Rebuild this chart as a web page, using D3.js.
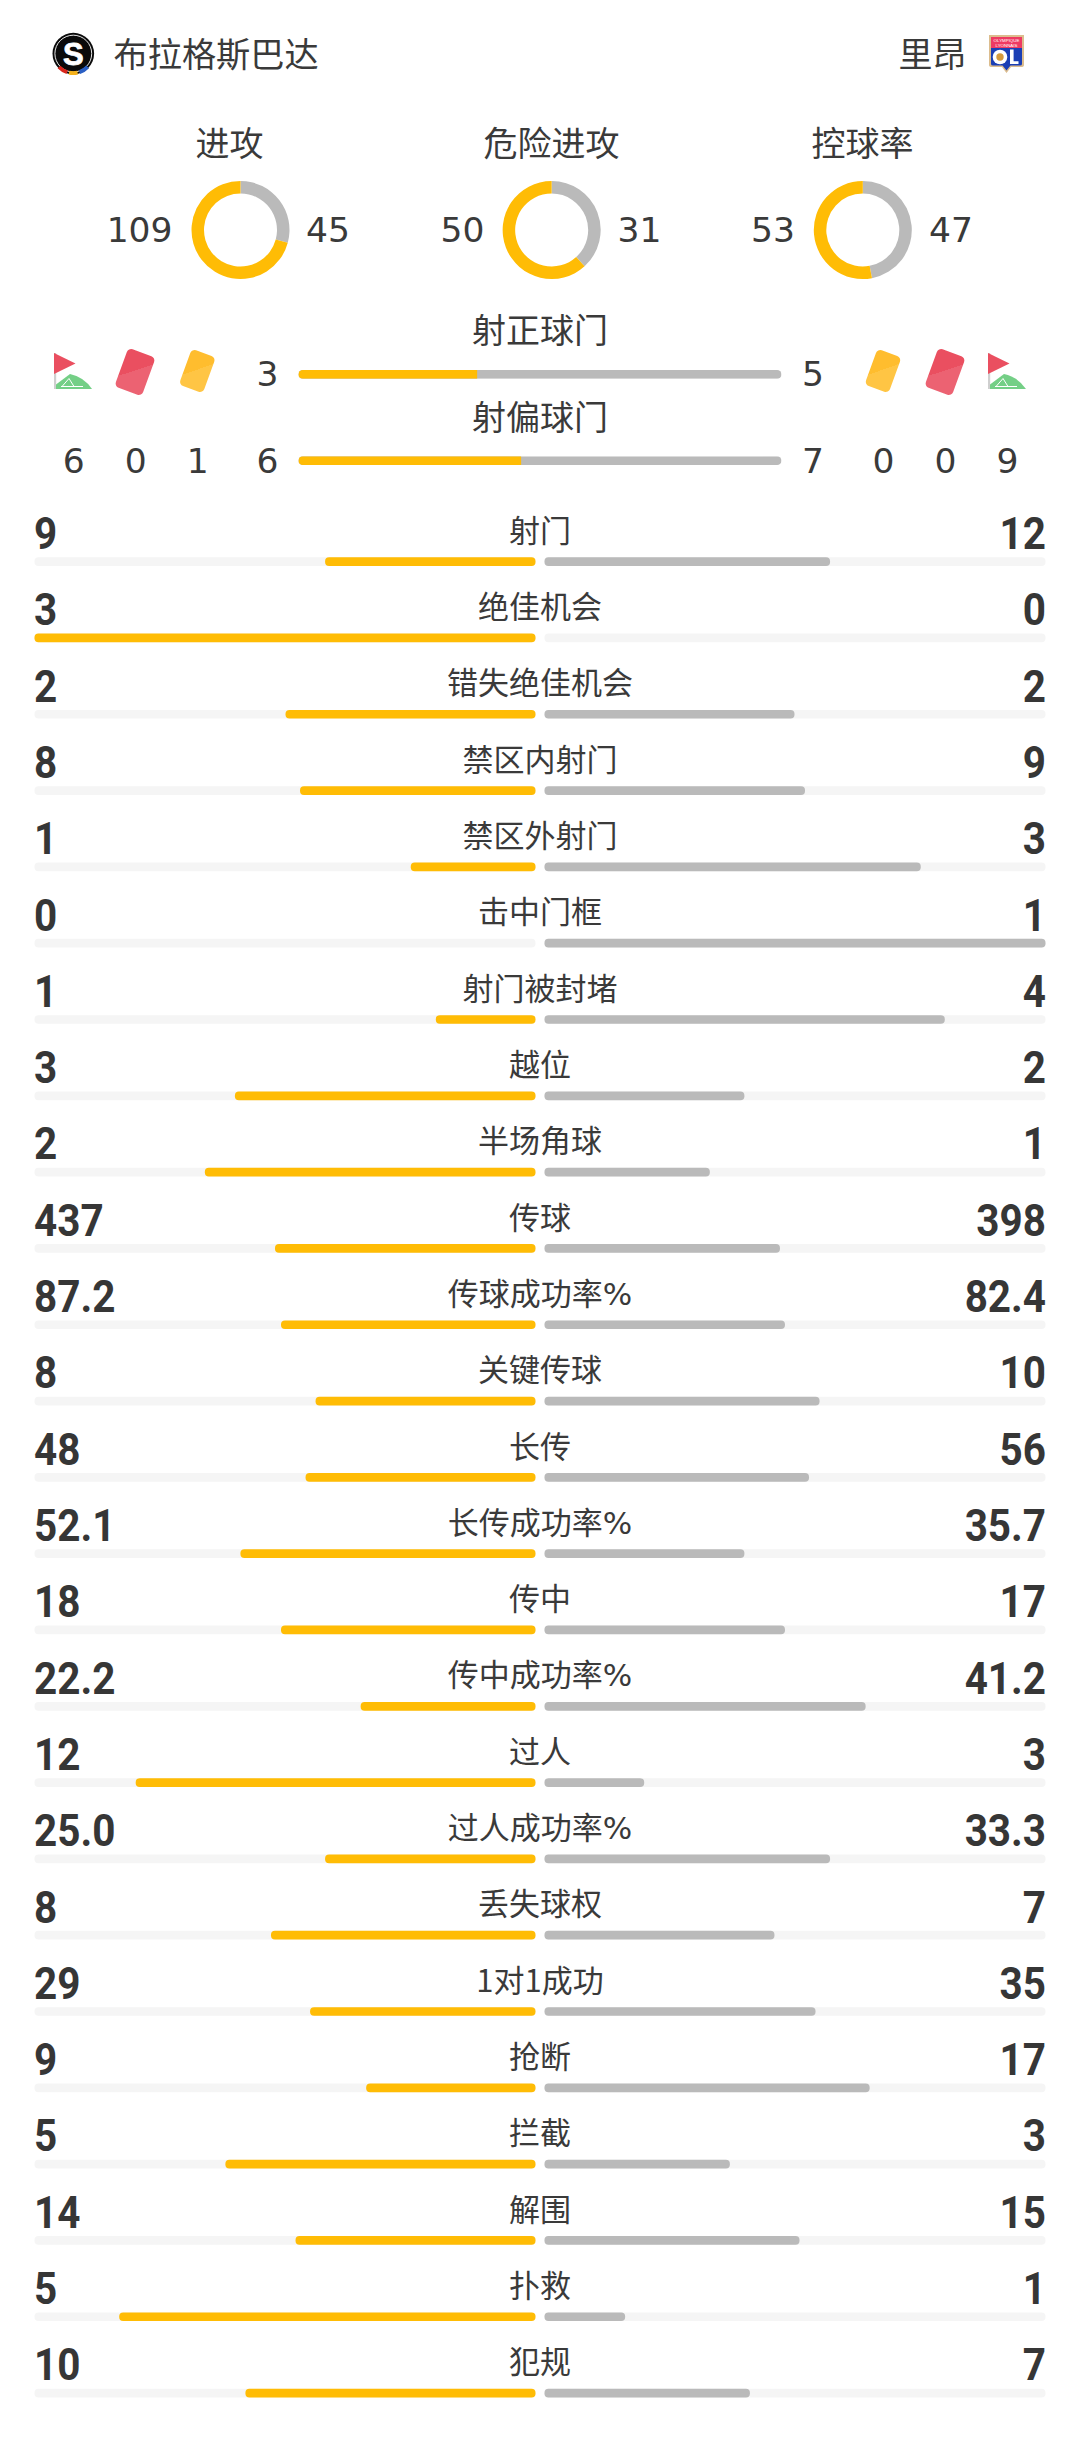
<!DOCTYPE html>
<html><head><meta charset="utf-8">
<script src="https://cdnjs.cloudflare.com/ajax/libs/d3/7.8.5/d3.min.js"></script>
<style>
html,body{margin:0;padding:0;background:#fff}
svg{display:block}
text{font-family:"DejaVu Sans","Noto Sans CJK SC",sans-serif;fill:#3a3a3a}
.cjk{font-family:"Noto Sans CJK SC","DejaVu Sans",sans-serif}
.num{font-family:Roboto,"DejaVu Sans",sans-serif;font-weight:700;fill:#363636}
.nar{font-family:"Liberation Sans Narrow","Noto Sans CJK SC",sans-serif}
</style></head><body>
<svg id="c" width="1080" height="2455" viewBox="0 0 1080 2455"></svg>
<script>
// ---- data ----
const homeTeam = "布拉格斯巴达";
const awayTeam = "里昂";
const donutTitles = ["进攻", "危险进攻", "控球率"];
const donutHome = [109, 50, 53];
const donutAway = [45, 31, 47];
const shotTitles = ["射正球门", "射偏球门"];
const shotHome = [3, 6];
const shotAway = [5, 7];
const shotHomePct = [37, 46.1];
const cornersHome = 6, redHome = 0, yellowHome = 1;
const cornersAway = 9, redAway = 0, yellowAway = 0;
const statLabels = ["射门","绝佳机会","错失绝佳机会","禁区内射门","禁区外射门","击中门框","射门被封堵","越位","半场角球","传球","传球成功率%","关键传球","长传","长传成功率%","传中","传中成功率%","过人","过人成功率%","丢失球权","1对1成功","抢断","拦截","解围","扑救","犯规"];
const statHome = [9,3,2,8,1,0,1,3,2,437,87.2,8,48,52.1,18,22.2,12,25.0,8,29,9,5,14,5,10];
const statAway = [12,0,2,9,3,1,4,2,1,398,82.4,10,56,35.7,17,41.2,3,33.3,7,35,17,3,15,1,7];
// bar lengths, in % of one half-track
const barHomePct = [42,100,49.9,47,24.9,0,19.9,60,66,52,50.8,43.9,45.9,58.9,50.8,34.9,79.8,42,52.8,45,33.8,61.9,47.9,83.1,57.9];
const barAwayPct = [57,0,49.9,52,75.1,100,79.9,39.9,33,47,48,54.9,52.8,39.9,48,64.1,19.9,57,45.9,54.1,64.9,37,50.9,16.1,41];

// ---- colours / layout ----
const YEL = "#ffbc05", GRY = "#bababa", TRK = "#f5f5f5";
const svg = d3.select("#c");
const defs = svg.append("defs");
function grad(id, a, b){
  const g = defs.append("linearGradient").attr("id", id).attr("x1","0").attr("y1","0").attr("x2","0.55").attr("y2","1");
  g.append("stop").attr("offset","0.56").attr("stop-color",a);
  g.append("stop").attr("offset","0.56").attr("stop-color",b);
}
grad("gr","#ea4f60","#ec6272");
grad("gy","#ffbd2e","#ffc544");

function txt(x,y,s,size,anchor,cls){
  return svg.append("text").attr("x",x).attr("y",y).attr("font-size",size)
    .attr("text-anchor",anchor||"middle").attr("class",cls||null).text(s);
}

// ---- header ----
txt(113.5,67,homeTeam,34.2,"start","cjk");
txt(966.5,67,awayTeam,34,"end","cjk");

// Sparta crest
const sp = svg.append("g").attr("transform","translate(73.3,53.6)");
sp.append("circle").attr("r",20.8).attr("fill","#0a0a0a");
sp.append("circle").attr("r",18.4).attr("fill","none").attr("stroke","#fff").attr("stroke-width",0.9);
sp.append("text").attr("y",11).attr("text-anchor","middle").attr("font-size",31)
  .style("font-family","'Liberation Sans',sans-serif").style("font-weight","700").style("fill","#fff").style("stroke","#fff").style("stroke-width","0.8").text("S");
const spArc = d3.arc().innerRadius(17.6).outerRadius(21.5);
[[2.32,2.82,"#2a5fc4"],[2.92,3.36,"#f5b21b"],[3.46,3.96,"#d9261c"]].forEach(d=>{
  sp.append("path").attr("d",spArc({startAngle:d[0],endAngle:d[1]})).attr("fill",d[2]);
});

// Lyon crest
const ol = svg.append("g").attr("transform","translate(989,35)");
ol.append("path").attr("d","M0,0H35V30Q35,32 32,32H22L17.5,38L13,32H3Q0,32 0,30Z").attr("fill","#dcbd8e");
ol.append("rect").attr("x",2).attr("y",2).attr("width",31).attr("height",11).attr("fill","#ee3a62");
ol.append("path").attr("d","M2,13H33V29Q33,30.5 31,30.5H21.5L17.5,35.5L13.5,30.5H4Q2,30.5 2,29Z").attr("fill","#1b3fb5");
ol.append("text").attr("x",17.5).attr("y",6.8).attr("text-anchor","middle").attr("font-size",4.4).style("font-family","'Liberation Sans',sans-serif").style("fill","#fff").text("OLYMPIQUE");
ol.append("text").attr("x",17.5).attr("y",11.6).attr("text-anchor","middle").attr("font-size",4.4).style("font-family","'Liberation Sans',sans-serif").style("fill","#fff").text("LYONNAIS");
ol.append("circle").attr("cx",11).attr("cy",22).attr("r",7.3).attr("fill","#fff");
ol.append("circle").attr("cx",11).attr("cy",22).attr("r",3.7).attr("fill","#d59a3c");
ol.append("path").attr("d","M21,14.5H24.6V26.2H29.5V29H21Z").attr("fill","#fff");

// ---- donuts ----
const pie = d3.pie().sort(null);
const arc = d3.arc().innerRadius(36.5).outerRadius(49);
const donutX = d3.scalePoint().domain(d3.range(3)).range([240.5,862.8]);
const titleX = [229.5,551.4,862.6];
const homeRight = [172.5,484.5,795];
const awayLeft = [306,617.5,929];
donutTitles.forEach((t,i)=>{
  txt(titleX[i],156,t,34,"middle","cjk");
  const g = svg.append("g").attr("transform",`translate(${donutX(i)},230)`);
  g.selectAll("path").data(pie([donutAway[i],donutHome[i]])).join("path")
    .attr("d",arc).attr("fill",(d,j)=>j?YEL:GRY);
  txt(homeRight[i],241.5,donutHome[i],34.5,"end");
  txt(awayLeft[i],241.5,donutAway[i],34.5,"start");
});

// ---- shots on/off target ----
const shotY = [370,456.3], shotNumY = [386,472.7], shotTitleY = [343.3,429.8];
const shotX = d3.scaleLinear().domain([0,100]).range([298.4,781.5]);
shotTitles.forEach((t,i)=>{
  txt(540,shotTitleY[i],t,34,"middle","cjk");
  const cid = "pill"+i;
  defs.append("clipPath").attr("id",cid).append("rect")
    .attr("x",shotX(0)).attr("y",shotY[i]).attr("width",shotX(100)-shotX(0)).attr("height",8.8).attr("rx",4.4);
  const g = svg.append("g").attr("clip-path",`url(#${cid})`);
  g.append("rect").attr("x",shotX(0)).attr("y",shotY[i]).attr("width",shotX(100)-shotX(0)).attr("height",8.8).attr("fill",GRY);
  g.append("rect").attr("x",shotX(0)).attr("y",shotY[i]).attr("width",shotX(shotHomePct[i])-shotX(0)).attr("height",8.8).attr("fill",YEL);
  txt(267.4,shotNumY[i],shotHome[i],34.5);
  txt(813,shotNumY[i],shotAway[i],34.5);
});
// summary digits under the icons
[[73.7,cornersHome],[135.8,redHome],[197.8,yellowHome],[883.5,yellowAway],[945.6,redAway],[1007.6,cornersAway]]
  .forEach(d=>txt(d[0],472.7,d[1],34.5));

// ---- icons ----
function card(cx,cy,w,h,fill){
  svg.append("rect").attr("x",-w/2).attr("y",-h/2).attr("width",w).attr("height",h).attr("rx",4.5)
    .attr("fill",`url(#${fill})`).attr("transform",`translate(${cx},${cy}) rotate(20)`);
}
function flag(x){
  const g = svg.append("g").attr("transform",`translate(${x},353)`);
  g.append("rect").attr("width",2.2).attr("height",36).attr("fill","#cfcfcf");
  g.append("path").attr("d","M0,0L21.5,10.5L0,21Z").attr("fill","#ea4f60");
  g.append("path").attr("d","M2,36V31.5L16,21Q30,24 38,36Z").attr("fill","#74cf86");
  g.append("path").attr("d","M7,33.5H29M8,33.5L15,25.5L20,33.5").attr("fill","none").attr("stroke","#fff").attr("stroke-width",1);
}
flag(54); flag(988);
card(135,372,29,41,"gr"); card(197.3,371,25.5,38,"gy");
card(883,371,25.5,38,"gy"); card(945,372,29,41,"gr");

// ---- stat rows ----
const rowY = d3.scaleLinear().domain([0,statLabels.length-1]).range([557.3,2388.7]);
const barW = d3.scaleLinear().domain([0,100]).range([0,501]);
const BH = 8.7;
function num(x,y,s,anchor){
  svg.append("text").attr("transform",`translate(${x},${y}) scale(0.93,1)`)
    .attr("font-size",43.5).attr("text-anchor",anchor).attr("class","num").text(s);
}
statLabels.forEach((lab,i)=>{
  const y = rowY(i), h = statHome[i], a = statAway[i];
  const fmt = v => lab.endsWith("%") ? v.toFixed(1) : String(v);
  num(34,y-8.3,fmt(h),"start");
  num(1046,y-8.3,fmt(a),"end");
  const t = txt(540,y-15.5,null,31,"middle");
  lab.split(/(\d+)/).filter(Boolean).forEach(part=>{
    t.append("tspan").attr("class",/\d/.test(part)?"nar":null).text(part);
  });
  const row = svg.append("g");
  row.append("rect").attr("x",34.5).attr("y",y).attr("width",501).attr("height",BH).attr("rx",4).attr("fill",TRK);
  row.append("rect").attr("x",544.5).attr("y",y).attr("width",501).attr("height",BH).attr("rx",4).attr("fill",TRK);
  if(barHomePct[i]>0) row.append("rect").attr("x",535.5-barW(barHomePct[i])).attr("y",y).attr("width",barW(barHomePct[i])).attr("height",BH).attr("rx",4).attr("fill",YEL);
  if(barAwayPct[i]>0) row.append("rect").attr("x",544.5).attr("y",y).attr("width",barW(barAwayPct[i])).attr("height",BH).attr("rx",4).attr("fill",GRY);
});
</script>
</body></html>
